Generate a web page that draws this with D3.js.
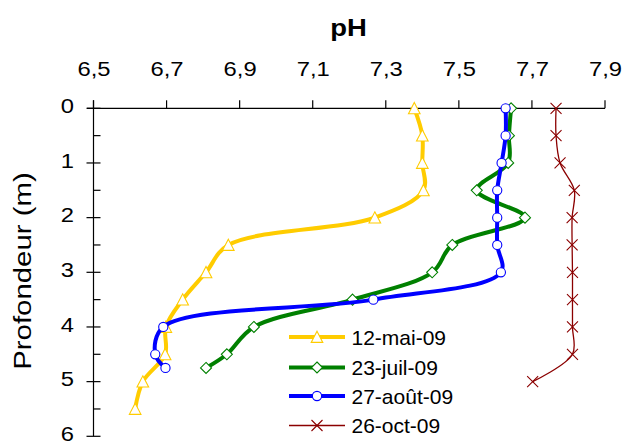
<!DOCTYPE html>
<html><head><meta charset="utf-8">
<script src="https://cdn.jsdelivr.net/npm/d3@7"></script>
<style>body{margin:0;background:#fff} text{font-family:Arial,"Liberation Sans",sans-serif;fill:#000}</style>
</head><body><svg id="c" width="625" height="442"></svg>
<script>
// ---- data ----
const depthsMai  = [0,0.5,1,1.5,2,2.5,3,3.5,4,4.5,5,5.5];
const phMai      = [7.378,7.40,7.40,7.403,7.27,6.869,6.808,6.744,6.698,6.696,6.635,6.614];
const depthsJuil = [0,0.5,1,1.5,2,2.5,3,3.5,4,4.5,4.75];
const phJuil     = [7.643,7.637,7.635,7.549,7.681,7.482,7.427,7.209,6.939,6.865,6.808];
const depthsAout = [0,0.5,1,1.5,2,2.5,3,3.5,4,4.5,4.75];
const phAout     = [7.628,7.628,7.617,7.605,7.605,7.605,7.615,7.266,6.691,6.669,6.697];
const depthsOct  = [0,0.5,1,1.5,2,2.5,3,3.5,4,4.5,5];
const phOct      = [7.766,7.766,7.777,7.816,7.81,7.81,7.811,7.811,7.811,7.811,7.702];
const seriesNames = ["12-mai-09","23-juil-09","27-août-09","26-oct-09"];
const xTicks = [6.5,6.7,6.9,7.1,7.3,7.5,7.7,7.9];
const xTickLabels = ["6,5","6,7","6,9","7,1","7,3","7,5","7,7","7,9"];
const yTicks = [0,1,2,3,4,5,6];
const yMinorTicks = [0.5,1.5,2.5,3.5,4.5,5.5];
const xTitle = "pH";
const yTitle = "Profondeur (m)";

// ---- styles ----
const styles = [
  {color:"#FFCC00", width:4,   marker:"triangle"},
  {color:"#008000", width:4,   marker:"diamond"},
  {color:"#0000FF", width:4,   marker:"circle"},
  {color:"#8B0000", width:1.3, marker:"x"}
];
const series = [
  {name:seriesNames[0], d:depthsMai,  v:phMai},
  {name:seriesNames[1], d:depthsJuil, v:phJuil},
  {name:seriesNames[2], d:depthsAout, v:phAout},
  {name:seriesNames[3], d:depthsOct,  v:phOct}
].map((s,i)=>({...s, style:styles[i], pts:s.d.map((dd,j)=>({depth:dd, ph:s.v[j]}))}));

const svg = d3.select("#c");
const x = d3.scaleLinear().domain([6.5,7.9]).range([93.5,605]);
const y = d3.scaleLinear().domain([0,6]).range([108.3,436.3]);
const STRETCH = 1.16;

// axes
const gx = svg.append("g");
gx.append("line").attr("x1",87).attr("x2",x(7.9)).attr("y1",y(0)).attr("y2",y(0)).attr("stroke","#000").attr("stroke-width",1.2);
gx.selectAll("line.t").data(xTicks).join("line").attr("class","t")
  .attr("x1",d=>x(d)).attr("x2",d=>x(d)).attr("y1",y(0)-8).attr("y2",y(0)).attr("stroke","#000").attr("stroke-width",1.2);
gx.selectAll("text").data(xTicks).join("text")
  .attr("transform",d=>`translate(${x(d)+0.5},76) scale(${STRETCH},1)`).attr("text-anchor","middle").style("font-size","20.5px")
  .text((d,i)=>xTickLabels[i]);

const gy = svg.append("g");
gy.append("line").attr("x1",x(6.5)).attr("x2",x(6.5)).attr("y1",y(0)-8).attr("y2",y(6)).attr("stroke","#000").attr("stroke-width",1.2);
gy.selectAll("line.M").data(yTicks).join("line").attr("class","M")
  .attr("x1",x(6.5)-7).attr("x2",x(6.5)+7).attr("y1",d=>y(d)).attr("y2",d=>y(d)).attr("stroke","#000").attr("stroke-width",1.2);
gy.selectAll("line.m").data(yMinorTicks).join("line").attr("class","m")
  .attr("x1",x(6.5)).attr("x2",x(6.5)+7).attr("y1",d=>y(d)).attr("y2",d=>y(d)).attr("stroke","#000").attr("stroke-width",1.2);
gy.selectAll("text").data(yTicks).join("text")
  .attr("transform",d=>`translate(74,${y(d)-2.8}) scale(${STRETCH},1)`).attr("dy","0.36em").attr("text-anchor","end").style("font-size","20.5px")
  .text(d=>d);

svg.append("text").attr("transform",`translate(348.5,36) scale(1.12,1)`).attr("text-anchor","middle")
  .style("font-size","24.5px").style("font-weight","bold").text(xTitle);
svg.append("text").attr("transform","translate(30.7,271) rotate(-90) scale(1.2,1)").attr("text-anchor","middle")
  .style("font-size","24.5px").text(yTitle);

// markers
function marker(g, type, color){
  if(type==="triangle") g.append("path").attr("d","M0,-5.8L5.8,5.4L-5.8,5.4Z").attr("fill","#fff").attr("stroke",color).attr("stroke-width",1.1);
  else if(type==="diamond") g.append("path").attr("d","M0,-5.5L5.5,0L0,5.5L-5.5,0Z").attr("fill","#fff").attr("stroke",color).attr("stroke-width",1.1);
  else if(type==="circle") g.append("circle").attr("r",4.6).attr("fill","#fff").attr("stroke",color).attr("stroke-width",1.1);
  else g.append("path").attr("d","M-5.5,-5.5L5.5,5.5M5.5,-5.5L-5.5,5.5").attr("fill","none").attr("stroke",color).attr("stroke-width",1.1);
}

const line = d3.line().x(p=>x(p.ph)).y(p=>y(p.depth)).curve(d3.curveCatmullRom.alpha(0.5));
series.forEach(s=>{
  const g = svg.append("g");
  g.append("path").datum(s.pts).attr("d",line).attr("fill","none")
    .attr("stroke",s.style.color).attr("stroke-width",s.style.width).attr("stroke-linejoin","round").attr("stroke-linecap","round");
  s.pts.forEach(p=>{
    marker(g.append("g").attr("transform",`translate(${x(p.ph)},${y(p.depth)})`), s.style.marker, s.style.color);
  });
});

// legend
const legY = [337,367.5,396,425.5];
series.forEach((s,i)=>{
  const g = svg.append("g").attr("transform",`translate(0,${legY[i]})`);
  g.append("line").attr("x1",289).attr("x2",345).attr("y1",0).attr("y2",0)
    .attr("stroke",s.style.color).attr("stroke-width",s.style.width);
  marker(g.append("g").attr("transform","translate(317,0)"), s.style.marker, s.style.color);
  g.append("text").attr("x",351.5).attr("y",0).attr("dy","0.36em").style("font-size","21px").text(s.name);
});
</script></body></html>
